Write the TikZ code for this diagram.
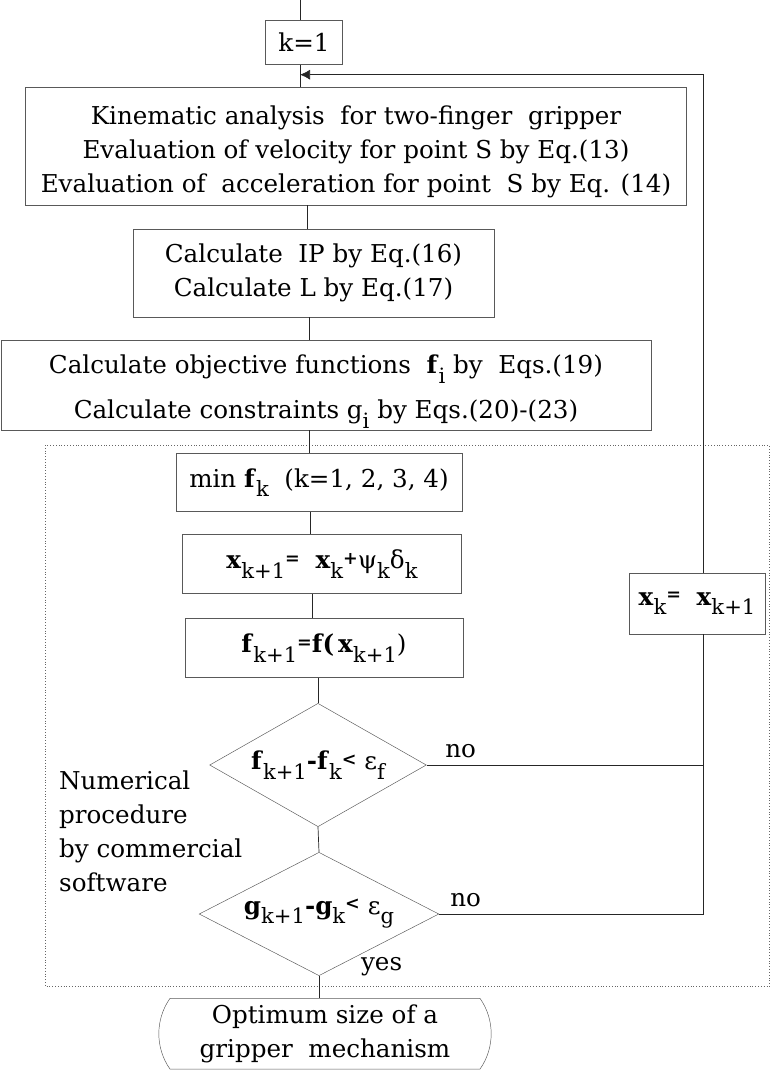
\documentclass[tikz,border=0pt]{standalone}
\usepackage{amsmath}
\usepackage{fontspec}
\setmainfont{DejaVu Serif}
\usepackage{tikz}
\usetikzlibrary{positioning,shapes.geometric,shapes.misc,arrows.meta}
\newcommand{\idx}[1]{\raisebox{-0.75ex}{\fontsize{18}{18}\selectfont #1}}
\newcommand{\op}[1]{\raisebox{0.35ex}{\fontsize{15}{15}\selectfont\textbf{#1}}}

\begin{document}
\begin{tikzpicture}[x=0.03cm,y=-0.03cm,
    font=\fontsize{21}{29}\selectfont,
    box/.style={rectangle,draw=black!65,thin,align=center,inner sep=0pt},
    test/.style={diamond,draw=black!65,thin,align=center,inner sep=0pt,shape aspect=1.75},
    link/.style={draw=black!85,line width=0.6pt}]

    \useasboundingbox (0,0) rectangle (770,1070);

    % dotted frame round the numerical part
    \draw[dotted,black!60] (45.7,445) rectangle (769,986.7);

    \node[box,minimum width=2.30cm,minimum height=1.32cm] (k1) at (304,42.3) {k=1};
    \node[box,minimum width=19.83cm,minimum height=3.55cm] (kin) at (356,146)
        {\rule{0pt}{1.2em}Kinematic analysis\ \ for two-finger\ \ gripper\\
         Evaluation of velocity for point S by Eq.(13)\\
         Evaluation of\ \ acceleration for point\ \ S by Eq. (14)};
    \node[box,minimum width=10.83cm,minimum height=2.64cm] (calc) at (313.5,273)
        {Calculate\ \ IP by Eq.(16)\\ Calculate L by Eq.(17)};
    \node[box,minimum width=19.5cm,minimum height=2.7cm] (obj) at (326,385)
        {\rule{0pt}{1.3em}Calculate objective functions\ \ \textbf{f}\idx{i} by\ \ Eqs.(19)\\[9pt]
         Calculate constraints g\idx{i} by Eqs.(20)-(23)};
    \node[box,minimum width=8.57cm,minimum height=1.74cm] (minf) at (319,482.7)
        {min \textbf{f}\idx{k}\ \ (k=1, 2, 3, 4)};
    \node[box,minimum width=8.37cm,minimum height=1.76cm] (upd) at (322,564)
        {\textbf{x}\idx{k+1}\op{=}\ \ \textbf{x}\idx{k}\op{+}ψ\idx{k}δ\idx{k}};
    \node[box,minimum width=8.35cm,minimum height=1.76cm] (fnew) at (324,648)
        {\textbf{f}\idx{k+1}\op{=}\textbf{f(}\,\textbf{x}\idx{k+1})};
    \node[box,minimum width=4.07cm,minimum height=1.82cm] (xk) at (697,603.7)
        {\textbf{x}\idx{k}\op{=}\ \ \textbf{x}\idx{k+1}};
    \node[test,minimum width=6.5cm,minimum height=3.7cm] (d1) at (318,765)
        {\textbf{f}\idx{k+1}\textbf{-f}\idx{k}\op{<}\ ε\idx{f}};
    \node[test,minimum width=7.19cm,minimum height=3.7cm] (d2) at (319,914)
        {\textbf{g}\idx{k+1}\textbf{-g}\idx{k}\op{<}\ ε\idx{g}};
    \node[rounded rectangle,rounded rectangle arc length=70,draw=black!65,thin,align=center,
        inner sep=0pt,minimum width=9.97cm,minimum height=2.12cm] (opt) at (325,1033.7)
        {Optimum size of a\\ gripper\ \ mechanism};

    \node[anchor=west,align=left] (num) at (55,831.7)
        {Numerical\\ procedure\\ by commercial\\ software};
    \node (no1) at (460.7,751) {no};
    \node (no2) at (465.6,900) {no};
    \node (yes) at (381.6,966.7) {yes};

    \coordinate (start) at (300,0);
    \coordinate (back) at (300,74.7);
    \coordinate (loop) at (703,74.7);

    % main line
    \draw[link] (start) -- (start |- k1.north);
    \draw[link] (k1.south -| start) -- (kin.north -| start);
    \draw[link] (kin.south -| 307,0) -- (calc.north -| 307,0);
    \draw[link] (calc.south -| 309.5,0) -- (obj.north -| 309.5,0);
    \draw[link] (obj.south -| 309.5,0) -- (minf.north -| 309.5,0);
    \draw[link] (minf.south -| 310,0) -- (upd.north -| 310,0);
    \draw[link] (upd.south -| 312,0) -- (fnew.north -| 312,0);
    \draw[link] (fnew.south -| d1.north) -- (d1.north);
    \draw[link] (d1.south) -- (d2.north);
    \draw[link] (d2.south) -- (opt.north -| d2.south);

    % feedback
    \draw[link] (d1.east) -- (d1.east -| loop);
    \draw[link] (d2.east) -- (d2.east -| loop) -- (xk.south -| loop);
    \draw[link,-{Latex[length=3mm,width=3mm]}] (xk.north -| loop) -- (loop) -- (back);

\end{tikzpicture}
\end{document}
